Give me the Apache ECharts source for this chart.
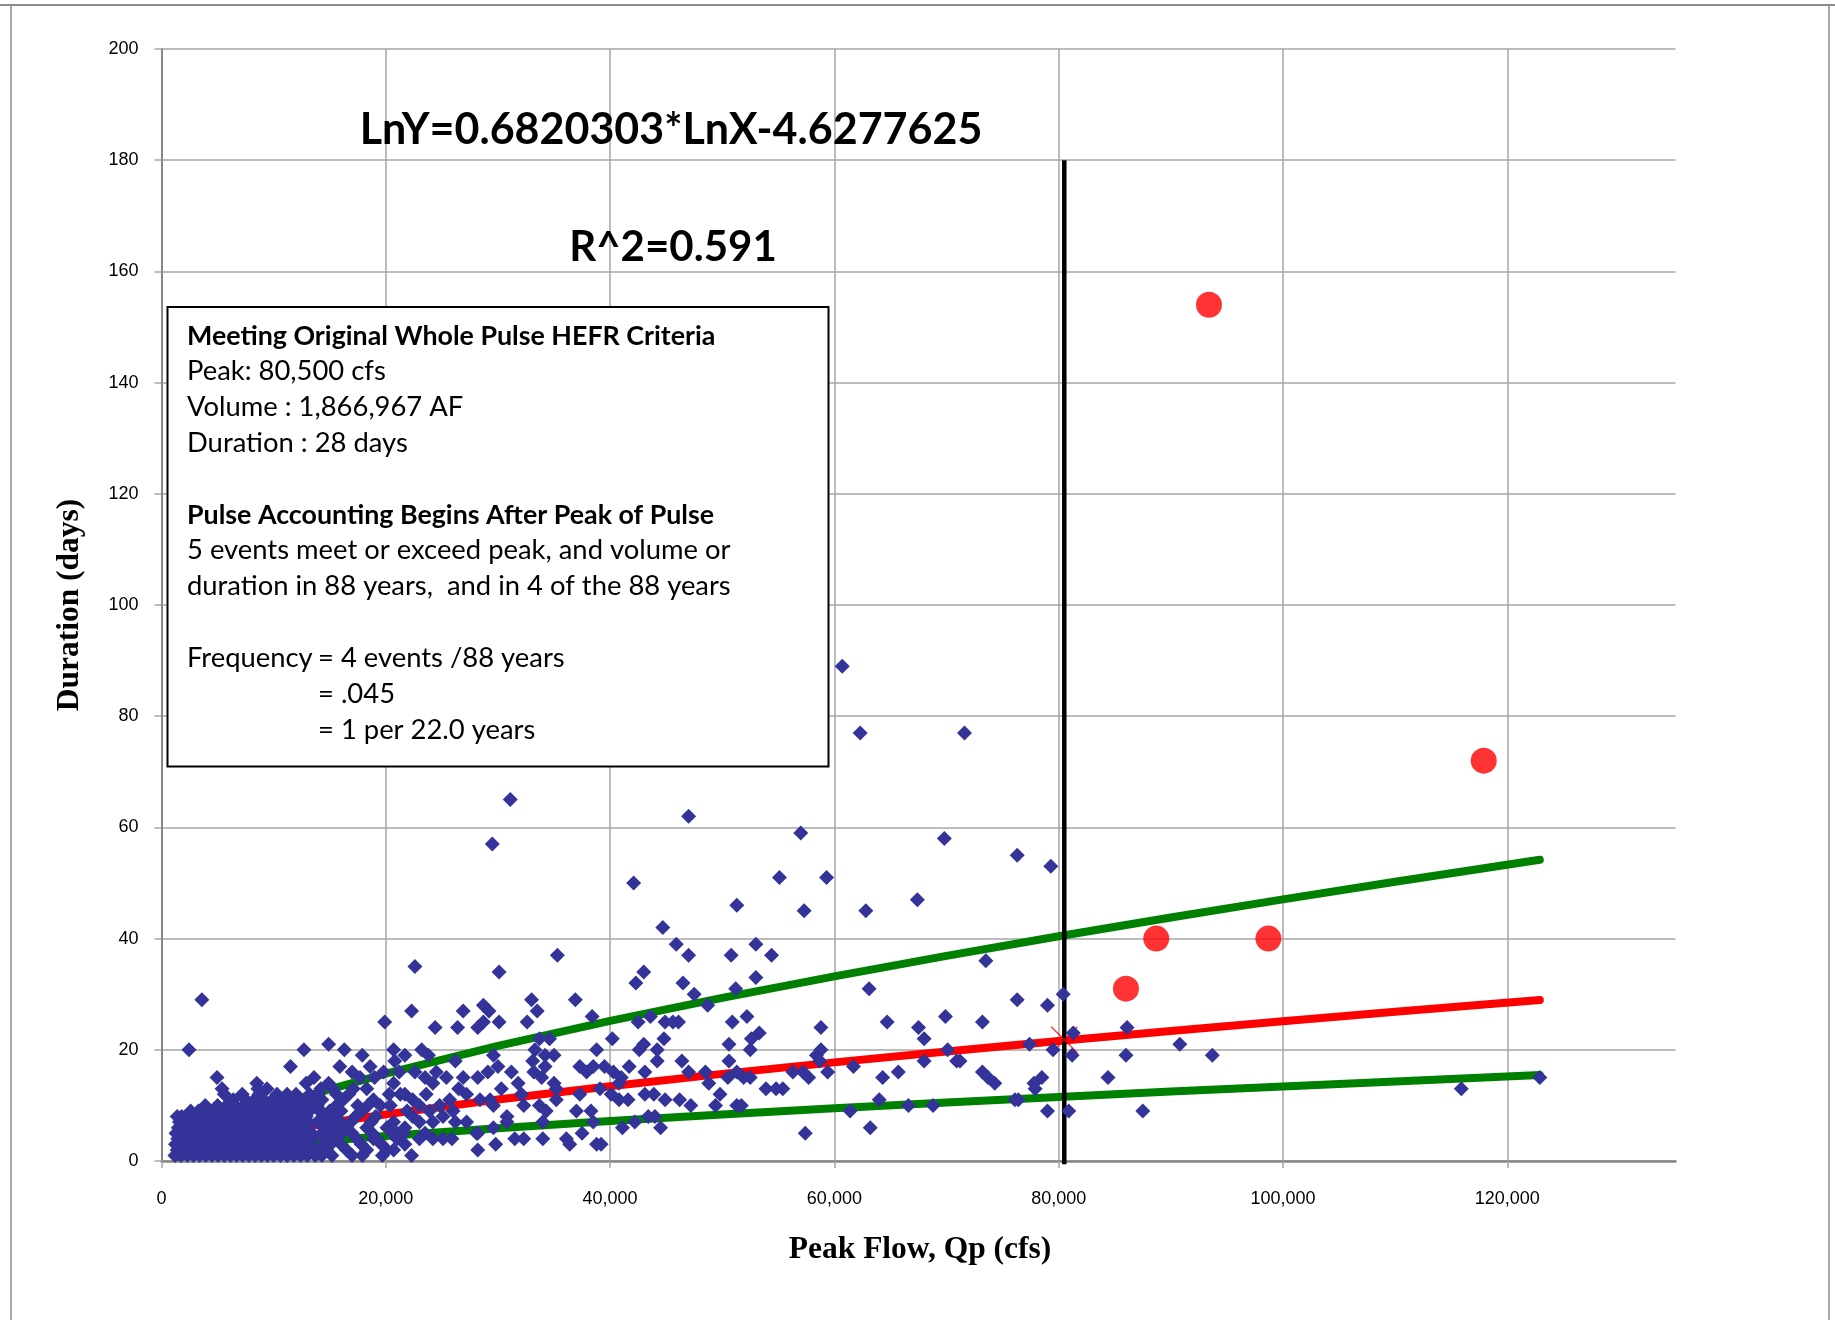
<!DOCTYPE html>
<html>
<head>
<meta charset="utf-8">
<script src="https://cdn.jsdelivr.net/npm/echarts@6/dist/echarts.min.js"></script>
<style>
  html, body { margin: 0; padding: 0; background: #ffffff; }
  #chart { width: 1835px; height: 1320px; }
</style>
</head>
<body>
<div id="chart"></div>
<script>
// ---- axis ticks ----
const peakTicks = [0, 20000, 40000, 60000, 80000, 100000, 120000];
const durationTicks = [0, 20, 40, 60, 80, 100, 120, 140, 160, 180, 200];

// ---- pulse events: [peak flow (cfs), duration (days)] ----
// dense cluster of small pulses
const eventsSmall = [
  [1200,1],[1750,1],[2300,1],[2850,1],[3400,1],[3950,1],[4500,1],[5050,1],[5600,1],[6150,1],[6700,1],[7250,1],[7800,1],[8350,1],[8900,1],[9450,1],[10000,1],[10600,1],[11200,1],[11800,1],[12400,1],[13000,1],[13700,1],
  [1400,2],[1950,2],[2500,2],[3050,2],[3600,2],[4150,2],[4700,2],[5250,2],[5800,2],[6350,2],[6900,2],[7450,2],[8000,2],[8550,2],[9100,2],[9650,2],[10200,2],[10800,2],[11400,2],[12000,2],[12600,2],[13300,2],[14000,2],
  [1250,3],[1800,3],[2350,3],[2900,3],[3450,3],[4000,3],[4550,3],[5100,3],[5650,3],[6200,3],[6750,3],[7300,3],[7850,3],[8400,3],[8950,3],[9500,3],[10100,3],[10700,3],[11300,3],[11900,3],[12500,3],[13200,3],
  [1450,4],[2000,4],[2550,4],[3100,4],[3650,4],[4200,4],[4750,4],[5300,4],[5850,4],[6400,4],[6950,4],[7500,4],[8050,4],[8600,4],[9150,4],[9700,4],[10300,4],[10900,4],[11500,4],[12100,4],[12800,4],[13500,4],
  [1300,5],[1850,5],[2400,5],[2950,5],[3500,5],[4050,5],[4600,5],[5150,5],[5700,5],[6250,5],[6800,5],[7350,5],[7900,5],[8450,5],[9000,5],[9550,5],[10150,5],[10750,5],[11350,5],[12000,5],[12700,5],[13400,5],
  [1500,6],[2050,6],[2600,6],[3150,6],[3700,6],[4250,6],[4800,6],[5350,6],[5900,6],[6450,6],[7000,6],[7550,6],[8100,6],[8650,6],[9200,6],[9800,6],[10400,6],[11000,6],[11600,6],[12300,6],[13000,6],
  [1600,7],[2150,7],[2700,7],[3250,7],[3800,7],[4350,7],[4900,7],[5450,7],[6000,7],[6550,7],[7100,7],[7650,7],[8200,7],[8750,7],[9300,7],[9900,7],[10500,7],[11100,7],[11700,7],[12400,7],[13100,7],[13900,7],
  [1800,8],[2450,8],[3100,8],[3700,8],[4300,8],[4900,8],[5500,8],[6100,8],[6700,8],[7300,8],[7900,8],[8500,8],[9100,8],[9700,8],[10300,8],[10900,8],[11500,8],[12200,8],[12900,8],
  [2600,9],[3300,9],[4000,9],[4700,9],[5400,9],[6100,9],[6800,9],[7500,9],[8200,9],[8900,9],[9600,9],[10300,9],[11000,9],[11700,9],[12400,9],[13200,9],[14100,9],
  [3900,10],[5000,10],[5800,10],[6600,10],[7400,10],[8200,10],[9000,10],[9800,10],[10600,10],[11400,10],[12200,10],[13000,10],
  [6400,11],[7500,11],[8300,11],[9100,11],[9900,11],[10700,11],[11500,11],[12300,11],[13200,11],
  [5600,12],[7200,12],[8700,12],[10300,12],[11200,12],[12000,12],[13200,12],
  [3600,29],[2450,20],[12700,20],[14900,21],[16300,20],[17900,19],[11500,17],[19900,25],[22300,27],[4950,15],
  [1400,8],[3900,9],[5400,13],[8500,14],[8600,13],[9400,13],
  [13600,15],[12900,14],[14900,14],[15900,17],[17000,16],[17700,15],[17100,13],[15300,13],
  [18300,13],[18900,11],[19500,10],[20700,14],[21300,12],[20400,10],[20800,18],[21700,19],[20700,20],
  [20700,2],[21000,5],[18900,4],[21900,9],[21700,6],[19800,16],[18600,17],[21200,16],[19000,15],[20300,12],
  [14300,1],[15200,1],[17000,1],[17900,1],[19700,1],
  [14700,2],[16500,2],[18300,2],[20100,2],
  [14500,3],[15100,3],[16000,3],[17800,3],[19600,3],
  [14700,4],[15600,4],[17400,4],[19200,4],[21000,4],
  [14300,5],[15100,5],[16100,5],[17000,5],[18800,5],[20600,5],
  [14500,6],[15600,6],[16500,6],[18300,6],[20100,6],
  [14200,7],[15100,7],[16000,7],[16900,7],[18700,7],[20700,7],
  [14600,8],[15500,8],[17300,8],[19100,8],
  [14200,9],[15000,9],[16000,9],[17900,9],
  [13900,10],[15600,10],[17500,10],[18400,10],
  [14300,11],[16200,11],
  [14000,12],[15600,12],[16700,12],
  [14200,13]
];

// mid-size pulses, 21,000 to 66,000 cfs
const eventsMid = [
  [22600,35],[30100,34],[35300,37],[43000,34],[42300,32],[26900,27],[28700,28],[29200,27],[33000,29],[33500,27],
  [36900,29],[24400,24],[26400,24],[28200,24],[28700,25],[30100,25],[32600,25],[38400,26],[40200,22],[42500,25],
  [43600,26],[33700,22],[34600,22],[33300,20],[38800,20],[42600,20],[23200,20],[23800,19],[26200,18],[29600,19],
  [30000,17],[34200,19],[35000,19],[33100,18],[34200,17],[33200,16],[33900,15],[37300,17],[37900,16],[38500,17],
  [39500,17],[40300,16],[41000,15],[41700,17],[43100,16],[31200,16],[29100,16],[28200,15],[30300,13],[31800,14],
  [35000,14],[35200,13],[37300,12],[39100,13],[40800,14],[40100,12],[40800,11],[41600,11],[43100,12],[43900,12],
  [32100,12],[32300,10],[28400,11],[29600,10],[27200,12],[33700,10],[34300,9],[34000,7],[35200,11],[37000,9],
  [38300,9],[38500,7],[42200,7],[43400,8],[30800,8],[30800,7],[29600,6],[28200,5],[31500,4],[32300,4],
  [34000,4],[36100,4],[36400,3],[37500,5],[38800,3],[29800,3],[28200,2],[22300,1],[41100,6],[39200,3],
  [22600,16],[23500,15],[24200,14],[24500,16],[25400,15],[26900,15],[26500,13],[21700,12],[22400,11],[23600,12],
  [23000,10],[23900,9],[22400,8],[23000,7],[24200,7],[23500,5],[24200,4],[25100,4],[25900,4],[23000,4],
  [21600,5],[21700,3],[25100,8],[26000,9],[26200,7],[27200,7],[28100,5],[29300,11],[24800,10],[25700,11],
  [45900,39],[53000,39],[47000,37],[50800,37],[54400,37],[46500,32],[53000,33],[47500,30],[51200,31],[48700,28],
  [63100,31],[64700,25],[44900,25],[45600,25],[46100,25],[50900,25],[52200,26],[53300,23],[52600,22],[44800,22],
  [43000,21],[44200,20],[50600,21],[52500,20],[58800,24],[58800,20],[58400,19],[58700,18],[44200,18],[46400,18],
  [50600,18],[47000,16],[48500,16],[48800,14],[50500,15],[51300,16],[51900,15],[52500,15],[56300,16],[57200,16],
  [57700,15],[59400,16],[61700,17],[64300,15],[65700,16],[44900,11],[46200,11],[47200,10],[49800,12],[49400,10],
  [51300,10],[51700,10],[53900,13],[54800,13],[55400,13],[64000,11],[61400,9],[44000,8],[44500,6],[57400,5],
  [63200,6]
];

// large or long pulses
const eventsLarge = [
  [31100,65],[29500,57],[47000,62],[57000,59],[42100,50],[55100,51],[59300,51],[51300,46],[57300,45],[62800,45],
  [44700,42],[60700,89],[62300,77],[71600,77],[69800,58],[67400,47],[76300,55],[79300,53],
  [73500,36],[76300,29],[79000,28],[80400,30],[67500,24],[69900,26],[73200,25],[68000,22],[70100,20],[70900,18],
  [71200,18],[68000,18],[73200,16],[73700,15],[74300,14],[77400,21],[79500,20],[81300,23],[81200,19],[78500,15],
  [77800,14],[77900,13],[86100,24],[86000,19],[90800,21],[84400,15],[76100,11],[76400,11],[66600,10],[68800,10],
  [79000,9],[80900,9],[87500,9],[93700,19],[115900,13],[122900,15]
];

// events meeting the whole-pulse criteria
const criteriaEvents = [[93400,154],[117900,72],[88700,40],[98700,40],[86000,31]];

// criteria peak and its point on the fitted curve
const criteriaPeak = 80500;
const criteriaLineTop = 180;
const criteriaPoint = [[80500, 21.8]];

// power fit LnY = 0.6820303*LnX - 4.6277625, with upper / lower bands
const fitX     = [1300, 2000, 3000, 5000, 7500, 10000, 15000, 20000, 30000, 40000, 50000, 60000, 70000, 80000, 90000, 100000, 110000, 122900];
const fitY     = [1.30, 1.74, 2.30, 3.26, 4.30, 5.23, 6.89, 8.39, 11.06, 13.46, 15.67, 17.74, 19.71, 21.59, 23.40, 25.14, 26.83, 28.94];
const upperY   = [2.43, 3.26, 4.31, 6.10, 8.04, 9.79, 12.90, 15.70, 20.70, 25.19, 29.33, 33.21, 36.90, 40.42, 43.80, 47.06, 50.22, 54.17];
const lowerY   = [0.69, 0.93, 1.23, 1.74, 2.29, 2.79, 3.68, 4.48, 5.91, 7.19, 8.37, 9.47, 10.53, 11.53, 12.49, 13.42, 14.32, 15.45];

// ---- text ----
const equationText = 'LnY=0.6820303*LnX-4.6277625';
const r2Text = 'R^2=0.591';
const xTitle = 'Peak Flow, Qp (cfs)';
const yTitle = 'Duration (days)';
const noteLines = [
  { text: 'Meeting Original Whole Pulse HEFR Criteria', bold: true, x: 0, y: 336 },
  { text: 'Peak: 80,500 cfs', x: 0, y: 371 },
  { text: 'Volume : 1,866,967 AF', x: 0, y: 407 },
  { text: 'Duration : 28 days', x: 0, y: 443 },
  { text: 'Pulse Accounting Begins After Peak of Pulse', bold: true, x: 0, y: 515 },
  { text: '5 events meet or exceed peak, and volume or', x: 0, y: 550 },
  { text: 'duration in 88 years,  and in 4 of the 88 years', x: 0, y: 586 },
  { text: 'Frequency', x: 0, y: 658 },
  { text: '= 4 events /88 years', x: 131, y: 658 },
  { text: '= .045', x: 131, y: 694 },
  { text: '= 1 per 22.0 years', x: 131, y: 730 }
];

const zip = (xs, ys) => xs.map((x, i) => [x, ys[i]]);

const GRID_COLOR = '#a6a6a6';
const AXIS_COLOR = '#868686';
const BOX_FONT = '"Lato", "Open Sans", sans-serif';
const noteLeft = 187;

const chart = echarts.init(document.getElementById('chart'), null, { renderer: 'canvas' });

const graphics = [
  // outer frame
  { type: 'line', shape: { x1: 0, y1: 5, x2: 1835, y2: 5 }, style: { stroke: '#8c8c8c', lineWidth: 2 }, z: 50 },
  { type: 'line', shape: { x1: 11, y1: 5, x2: 11, y2: 1320 }, style: { stroke: '#8c8c8c', lineWidth: 1.5 }, z: 50 },
  { type: 'line', shape: { x1: 1829, y1: 5, x2: 1829, y2: 1320 }, style: { stroke: '#8c8c8c', lineWidth: 1.5 }, z: 50 },
  // regression text
  { type: 'text', x: 671, y: 130, z: 60,
    style: { text: equationText, font: 'bold 43px ' + BOX_FONT, fill: '#000', align: 'center', verticalAlign: 'middle' } },
  { type: 'text', x: 673, y: 247, z: 60,
    style: { text: r2Text, font: 'bold 42px ' + BOX_FONT, fill: '#000', align: 'center', verticalAlign: 'middle' } },
  // axis titles
  { type: 'text', x: 920, y: 1250, z: 60,
    style: { text: xTitle, font: 'bold 31.5px "Liberation Serif", "Times New Roman", serif', fill: '#000', align: 'center', verticalAlign: 'middle' } },
  { type: 'text', x: 70, y: 605, rotation: Math.PI / 2, z: 60,
    style: { text: yTitle, font: 'bold 31.5px "Liberation Serif", "Times New Roman", serif', fill: '#000', align: 'center', verticalAlign: 'middle' } },
  // note box
  { type: 'rect', shape: { x: 167.5, y: 307, width: 661, height: 459.5 }, z: 100,
    style: { fill: '#ffffff', stroke: '#000000', lineWidth: 2 } }
];
noteLines.forEach(l => {
  graphics.push({
    type: 'text', x: noteLeft + l.x, y: l.y, z: 101,
    style: { text: l.text, font: (l.bold ? 'bold 26.8px ' : '27.4px ') + BOX_FONT, fill: '#000', align: 'left', verticalAlign: 'middle' }
  });
});

const option = {
  animation: false,
  backgroundColor: '#ffffff',
  grid: { left: 161.5, right: 159.5, top: 49, bottom: 159, containLabel: false },
  xAxis: {
    type: 'value', min: 0, max: 135000, interval: 20000,
    axisLine: { show: true, onZero: false, lineStyle: { color: AXIS_COLOR, width: 2.5 } },
    axisTick: { show: true, inside: false, length: 7, customValues: peakTicks, lineStyle: { color: GRID_COLOR, width: 1.5 } },
    axisLabel: {
      customValues: peakTicks, margin: 29,
      color: '#000', fontFamily: '"Liberation Sans", Arial, sans-serif', fontSize: 18,
      formatter: v => v.toLocaleString('en-US')
    },
    splitLine: { show: true, showMinLine: false, lineStyle: { color: GRID_COLOR, width: 1.5 } }
  },
  yAxis: {
    type: 'value', min: 0, max: 200, interval: 20,
    axisLine: { show: true, onZero: false, lineStyle: { color: AXIS_COLOR, width: 2 } },
    axisTick: { show: true, inside: false, length: 7, lineStyle: { color: GRID_COLOR, width: 1.5 } },
    axisLabel: { margin: 23, color: '#000', fontFamily: '"Liberation Sans", Arial, sans-serif', fontSize: 18,
      customValues: durationTicks },
    splitLine: { show: true, lineStyle: { color: GRID_COLOR, width: 1.5 } }
  },
  graphic: graphics,
  series: [
    {
      name: 'Upper band', type: 'line', data: zip(fitX, upperY),
      symbol: 'none', z: 2, lineStyle: { color: '#008000', width: 8, cap: 'round', join: 'round' }
    },
    {
      name: 'Lower band', type: 'line', data: zip(fitX, lowerY),
      symbol: 'none', z: 2, lineStyle: { color: '#008000', width: 8, cap: 'round', join: 'round' }
    },
    {
      name: 'Power fit', type: 'line', data: zip(fitX, fitY),
      symbol: 'none', z: 3, lineStyle: { color: '#ff0000', width: 8, cap: 'round', join: 'round' }
    },
    {
      name: 'Criteria peak', type: 'line', clip: false,
      data: [[criteriaPeak, criteriaLineTop], [criteriaPeak, -0.6]],
      symbol: 'none', z: 4, lineStyle: { color: '#000000', width: 4.5 }
    },
    {
      name: 'Criteria point', type: 'scatter', data: criteriaPoint, z: 5,
      symbol: 'path://M0,0.35L0.35,0L10,9.65L9.65,10Z M9.65,0L10,0.35L0.35,10L0,9.65Z',
      symbolSize: 27, itemStyle: { color: '#ff0000' }
    },
    {
      name: 'Pulse events', type: 'scatter', z: 6,
      data: eventsSmall.concat(eventsMid, eventsLarge),
      symbol: 'diamond', symbolSize: 15, itemStyle: { color: '#333399', opacity: 1 }
    },
    {
      name: 'Criteria events', type: 'scatter', z: 7, data: criteriaEvents,
      symbol: 'circle', symbolSize: 26, itemStyle: { color: '#ff0000' }
    }
  ]
};

chart.setOption(option);
</script>
</body>
</html>
